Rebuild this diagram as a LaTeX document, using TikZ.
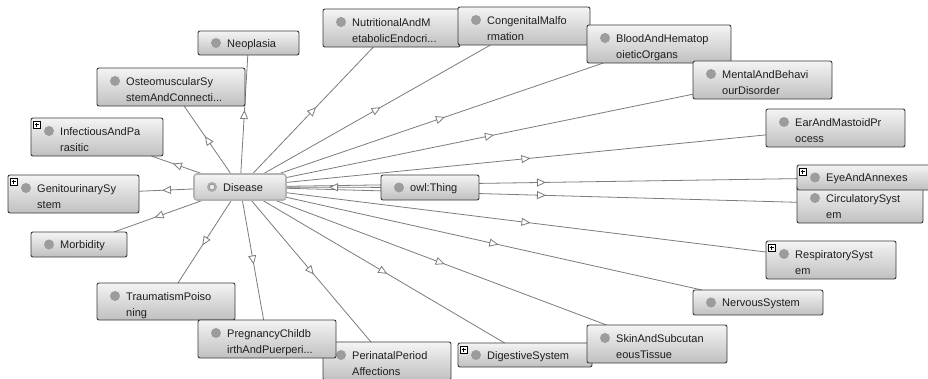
\documentclass[tikz,border=0pt]{standalone}
\usepackage{fontspec}
\setmainfont{Liberation Sans}
\usetikzlibrary{arrows.meta,decorations.markings}
\pgfdeclarelayer{back}
\pgfdeclarelayer{bg}
\pgfsetlayers{back,bg,main}
\definecolor{edgegray}{HTML}{7C7C7C}
\definecolor{boxborder}{HTML}{3A3A3A}
\definecolor{boxtop}{HTML}{F4F4F4}
\definecolor{boxbot}{HTML}{C0C0C0}
\definecolor{dotgray}{HTML}{9C9C9C}
\definecolor{txt}{HTML}{1E1E1E}
\definecolor{selborder}{HTML}{B4B4B4}
\tikzset{
  cls/.style={draw=boxborder, line width=0.9pt, rounded corners=2pt,
    top color=boxtop, bottom color=boxbot, inner sep=0pt, outer sep=0pt},
  selcls/.style={draw=selborder, line width=1.6pt, rounded corners=3pt,
    top color=boxtop, bottom color=boxbot!85!white, inner sep=0pt, outer sep=0pt},
  dot/.style={circle, fill=dotgray, minimum size=10pt, inner sep=0pt},
  lbl/.style={inner sep=0pt, font=\fontsize{11}{16}\selectfont, text=txt, anchor=base west},
  plusbox/.style={draw=black, fill=white, minimum size=7pt, inner sep=0pt, line width=0.5pt,
    path picture={
      \draw[line width=0.7pt] ([xshift=1.3pt]path picture bounding box.west) -- ([xshift=-1.3pt]path picture bounding box.east);
      \draw[line width=0.7pt] ([yshift=-1.3pt]path picture bounding box.north) -- ([yshift=1.3pt]path picture bounding box.south);
    }},
  edge/.style={draw=edgegray, line width=0.8pt},
  arr/.style={postaction={decorate}, decoration={markings,
    mark=at position 0.5 with {\arrow[xshift=4.5pt]{Triangle[length=9pt,width=8pt,fill=white]}}}},
}
\newcommand{\oneline}[6]{%
  \node[cls, minimum width=#4pt, minimum height=#5pt, anchor=north west] (#1) at (#2,#3) {};
  \node[dot] (#1-d) at ([xshift=18pt]#1.west) {};
  \node[lbl] (#1-t) at ([xshift=29pt,yshift=-4pt]#1.west) {#6};
}
\newcommand{\twoline}[7]{%
  \node[cls, minimum width=#4pt, minimum height=#5pt, anchor=north west] (#1) at (#2,#3) {};
  \node[dot] (#1-d) at ([xshift=18pt,yshift=-13pt]#1.north west) {};
  \node[lbl] (#1-a) at ([xshift=29pt,yshift=-17pt]#1.north west) {#6};
  \node[lbl] (#1-b) at ([xshift=29pt,yshift=-33pt]#1.north west) {#7};
}
\newcommand{\plusmark}[1]{%
  \node[plusbox, anchor=north west] (#1-p) at ([xshift=2pt,yshift=-3pt]#1.north west) {};
}
\begin{document}
\begin{tikzpicture}[x=1pt,y=-1pt]
\useasboundingbox (0,0) rectangle (928,378);
\begin{pgfonlayer}{back}
  \fill[white] (0,0) rectangle (928,378);
\end{pgfonlayer}
\clip (0,0) rectangle (928,378);

% left side
\oneline{neo}{198}{31}{101}{24}{Neoplasia}
\twoline{ost}{97}{68}{148}{38}{OsteomuscularSy}{stemAndConnecti...}
\twoline{inf}{31}{118}{132}{38}{InfectiousAndPa}{rasitic}
\plusmark{inf}
\twoline{gen}{8}{175}{131}{38}{GenitourinarySy}{stem}
\plusmark{gen}
\oneline{mor}{31}{232}{96}{25}{Morbidity}
\twoline{tra}{97}{283}{138}{37}{TraumatismPoiso}{ning}
\twoline{per}{323}{342}{128}{38}{PerinatalPeriod}{Affections}
\twoline{pre}{198}{320}{138}{38}{PregnancyChildb}{irthAndPuerperi...}
\oneline{dig}{458}{343}{134}{24}{DigestiveSystem}
\plusmark{dig}
\twoline{ski}{587}{325}{140}{38}{SkinAndSubcutan}{eousTissue}
\oneline{ner}{693}{290}{130}{25}{NervousSystem}
\twoline{res}{766}{241}{130}{38}{RespiratorySyst}{em}
\plusmark{res}
\twoline{cir}{797}{185}{126}{38}{CirculatorySyst}{em}
\oneline{eye}{797}{165}{150}{25}{EyeAndAnnexes}
\plusmark{eye}
\twoline{ear}{766}{109}{139}{38}{EarAndMastoidPr}{ocess}
\twoline{nut}{323}{9}{137}{38}{NutritionalAndM}{etabolicEndocri...}
\twoline{con}{458}{7}{132}{38}{CongenitalMalfo}{rmation}
\twoline{blo}{587}{25}{144}{38}{BloodAndHematop}{oieticOrgans}
\twoline{men}{693}{61}{139}{38}{MentalAndBehavi}{ourDisorder}
\oneline{thg}{381}{175}{98}{25}{owl:Thing}

% Disease (selected)
\node[selcls, minimum width=92pt, minimum height=26pt, anchor=north west] (dis) at (194,174) {};
\node[circle, fill=dotgray!85!white, minimum size=10pt, inner sep=0pt] (dis-d) at ([xshift=18pt]dis.west) {};
\node[draw=dotgray!70!black, fill=white!80!dotgray, minimum size=4.5pt, inner sep=0pt, line width=0.4pt, rounded corners=0.8pt] (dis-s) at (dis-d) {};
\node[lbl] (dis-t) at ([xshift=29pt,yshift=-4pt]dis.west) {Disease};

\begin{pgfonlayer}{bg}
  \foreach \n in {neo,ost,inf,gen,mor,tra,pre,per,dig,ski,ner,res,cir,eye,ear,men,blo,con,nut}
    {\draw[edge,arr] (dis) -- (\n);}
  \draw[edge,arr] (thg) -- (dis);
\end{pgfonlayer}
\end{tikzpicture}
\end{document}
